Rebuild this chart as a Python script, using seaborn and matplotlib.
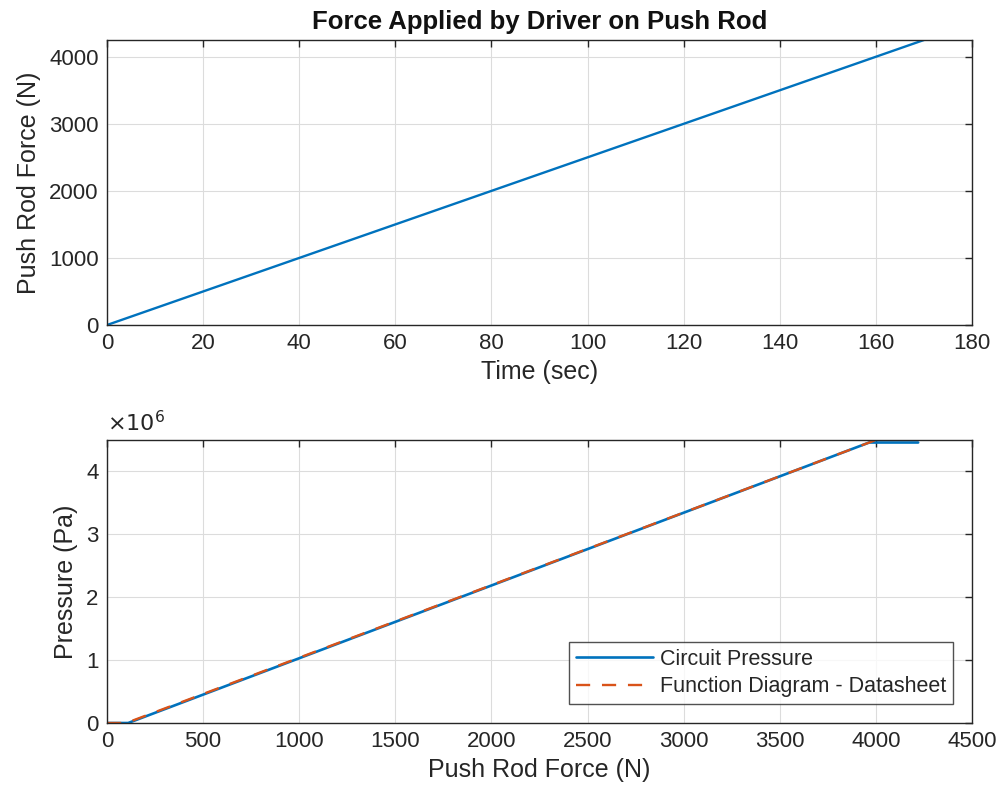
import numpy as np
import pandas as pd
import matplotlib
matplotlib.use("Agg")
import matplotlib.pyplot as plt
import seaborn as sns

# data
time_sec = [0, 170]
push_rod_force = [0, 4250]

circuit_force = [0, 110, 3965, 4220]
circuit_pressure = [0, 0, 4.46e6, 4.46e6]

datasheet_force = [0, 100, 4000]
datasheet_pressure = [0, 0, 4.5e6]

sns.set_theme(style="whitegrid")
plt.rcParams['font.family'] = ['Liberation Sans', 'DejaVu Sans']
plt.rcParams.update({
    'axes.edgecolor': '#262626',
    'axes.linewidth': 1.0,
    'grid.color': '#dcdcdc',
    'grid.linewidth': 0.8,
    'xtick.direction': 'in',
    'ytick.direction': 'in',
    'xtick.color': '#262626',
    'ytick.color': '#262626',
    'xtick.labelsize': 16,
    'ytick.labelsize': 16,
    'axes.labelsize': 18,
    'axes.labelcolor': '#262626',
})

blue = '#0072BD'
orange = '#D95319'

fig = plt.figure(figsize=(10.04, 8.01), dpi=100)
W, H = 1004, 801
ax1 = fig.add_axes([107 / W, 1 - 325 / H, 865 / W, 285 / H])
ax2 = fig.add_axes([107 / W, 1 - 723 / H, 865 / W, 283 / H])

top = pd.DataFrame({'t': time_sec, 'f': push_rod_force})
sns.lineplot(data=top, x='t', y='f', ax=ax1, color=blue, linewidth=1.7)
ax1.set_xlim(0, 180)
ax1.set_ylim(0, 4250)
ax1.set_xticks(range(0, 181, 20))
ax1.set_yticks(range(0, 4001, 1000))
ax1.set_xlabel('Time (sec)', labelpad=4)
ax1.set_ylabel('Push Rod Force (N)', labelpad=6)
ax1.set_title('Force Applied by Driver on Push Rod', fontweight='bold', fontsize=18.5, color='#111111', pad=8)

circ = pd.DataFrame({'f': circuit_force, 'p': circuit_pressure})
ds = pd.DataFrame({'f': datasheet_force, 'p': datasheet_pressure})
sns.lineplot(data=circ, x='f', y='p', ax=ax2, color=blue, linewidth=1.9, label='Circuit Pressure')
sns.lineplot(data=ds, x='f', y='p', ax=ax2, color=orange, linewidth=1.7, linestyle=(0, (6, 5)),
             label='Function Diagram - Datasheet')
ax2.set_xlim(0, 4500)
ax2.set_ylim(0, 4.5e6)
ax2.set_xticks(range(0, 4501, 500))
ax2.set_yticks([0, 1e6, 2e6, 3e6, 4e6])
ax2.set_yticklabels(['0', '1', '2', '3', '4'])
ax2.text(0, 1.012, r'$\times10^{6}$', transform=ax2.transAxes, fontsize=16, color='#262626',
         ha='left', va='bottom')
ax2.set_xlabel('Push Rod Force (N)', labelpad=4)
ax2.set_ylabel('Pressure (Pa)', labelpad=6)
leg = ax2.legend(loc='lower right', fontsize=15.5, frameon=True, fancybox=False, handlelength=3.6,
                 borderaxespad=0.9, handletextpad=0.3, borderpad=0.3, labelspacing=0.3)
leg.get_frame().set_edgecolor('#262626')
leg.get_frame().set_linewidth(1.0)

for ax in (ax1, ax2):
    ax.tick_params(length=5, width=1, top=True, right=True, pad=6)
    for s in ax.spines.values():
        s.set_visible(True)

fig.savefig('out.png', dpi=100)
